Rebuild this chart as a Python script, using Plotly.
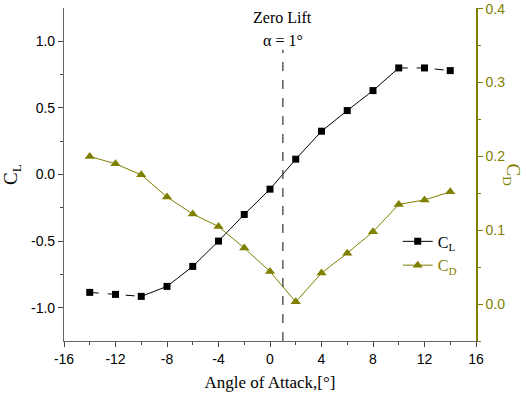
import plotly.graph_objects as go

alpha = [-14, -12, -10, -8, -6, -4, -2, 0, 2, 4, 6, 8, 10, 12, 14]
cl = [-0.885, -0.90, -0.915, -0.84, -0.69, -0.50, -0.30, -0.11, 0.115, 0.325, 0.48, 0.63, 0.80, 0.80, 0.78]
cd = [0.200, 0.190, 0.175, 0.145, 0.122, 0.105, 0.076, 0.044, 0.003, 0.042, 0.069, 0.098, 0.135, 0.141, 0.152]
zero_lift_alpha = 1

x_ticks = [-16, -12, -8, -4, 0, 4, 8, 12, 16]
cl_ticks = [-1.0, -0.5, 0.0, 0.5, 1.0]
cd_ticks = [0.0, 0.1, 0.2, 0.3, 0.4]

OLIVE = "#7f7f00"
SERIF = "Liberation Serif, Times New Roman, serif"
SANS = "Liberation Sans, Arial, sans-serif"

fig = go.Figure()

# CL: dashed ends, solid middle
fig.add_trace(go.Scatter(x=alpha[:3], y=cl[:3], mode="lines", line=dict(color="black", width=1, dash="dash"),
                         showlegend=False, hoverinfo="skip"))
fig.add_trace(go.Scatter(x=alpha[-3:], y=cl[-3:], mode="lines", line=dict(color="black", width=1, dash="dash"),
                         showlegend=False, hoverinfo="skip"))
fig.add_trace(go.Scatter(x=alpha[2:-2], y=cl[2:-2], mode="lines", line=dict(color="black", width=1),
                         showlegend=False, hoverinfo="skip"))
fig.add_trace(go.Scatter(x=alpha, y=cl, mode="markers", name="C<sub>L</sub>",
                         marker=dict(symbol="square", size=7, color="black"), showlegend=False))
# legend entry for CL
fig.add_trace(go.Scatter(x=[None], y=[None], mode="lines+markers", name="C<sub>L</sub>",
                         line=dict(color="black", width=1),
                         marker=dict(symbol="square", size=7, color="black")))

fig.add_trace(go.Scatter(x=alpha, y=cd, mode="lines+markers", yaxis="y2",
                         name="<span style='color:%s'>C<sub>D</sub></span>" % OLIVE,
                         line=dict(color=OLIVE, width=1),
                         marker=dict(symbol="triangle-up", size=9, color=OLIVE)))

fig.add_shape(type="line", xref="x", yref="paper", x0=zero_lift_alpha, x1=zero_lift_alpha, y0=0, y1=0.875,
              line=dict(color="#333333", width=1.2, dash="dash"))

fig.add_annotation(x=zero_lift_alpha, xref="x", y=1.0 - (18 - 8) / 333, yref="paper", yanchor="middle",
                   text="Zero Lift", showarrow=False, font=dict(family=SERIF, size=16, color="black"))
fig.add_annotation(x=zero_lift_alpha, xref="x", y=1.0 - (40 - 8) / 333, yref="paper", yanchor="middle",
                   text="α = 1°", showarrow=False, font=dict(family=SERIF, size=16, color="black"))
# right axis title rotated clockwise
fig.add_annotation(x=1.0, xref="paper", xanchor="center", xshift=36, y=0.5, yref="paper", yanchor="middle",
                   text="C<sub>D</sub>", textangle=90, showarrow=False,
                   font=dict(family=SERIF, size=19, color=OLIVE))

fig.update_layout(
    width=526, height=395,
    margin=dict(l=64, r=50, t=8, b=54),
    plot_bgcolor="white", paper_bgcolor="white",
    font=dict(family=SANS, size=14, color="black"),
    xaxis=dict(range=[-16, 16], tickmode="array", tickvals=x_ticks, ticktext=[str(v) for v in x_ticks],
               ticks="outside", ticklen=5, tickcolor="#444", showline=True, linecolor="#666", linewidth=1.2,
               showgrid=False, zeroline=False, automargin=False,
               minor=dict(tickvals=[-14, -10, -6, -2, 2, 6, 10, 14], ticks="outside", ticklen=3, tickcolor="#444"),
               title=dict(text="Angle of Attack,[°]", font=dict(family=SERIF, size=17), standoff=10)),
    yaxis=dict(range=[-1.25, 1.25], tickmode="array", tickvals=cl_ticks,
               ticktext=["%.1f" % v for v in cl_ticks],
               ticks="outside", ticklen=5, tickcolor="#444", showline=True, linecolor="#666", linewidth=1.2,
               showgrid=False, zeroline=False, automargin=False,
               minor=dict(tickvals=[-0.75, -0.25, 0.25, 0.75], ticks="outside", ticklen=3, tickcolor="#444"),
               title=dict(text="C<sub>L</sub>", font=dict(family=SERIF, size=19), standoff=10)),
    yaxis2=dict(range=[-0.05, 0.401], overlaying="y", side="right", tickmode="array", tickvals=cd_ticks,
                ticktext=["%.1f" % v for v in cd_ticks], ticks="outside", ticklen=5, tickcolor=OLIVE, showline=True,
                linecolor=OLIVE, linewidth=1.5, showgrid=False, zeroline=False, automargin=False,
                tickfont=dict(color=OLIVE),
                minor=dict(tickvals=[-0.05, 0.05, 0.15, 0.25, 0.35], ticks="outside", ticklen=3, tickcolor=OLIVE)),
    legend=dict(x=0.81, y=0.35, xanchor="left", yanchor="top", bgcolor="rgba(0,0,0,0)",
                font=dict(family=SERIF, size=16), itemwidth=30, tracegroupgap=0),
)

fig.write_html("out.html", config={"displayModeBar": False},
               post_script="document.body.style.margin='0';document.body.style.overflow='hidden';")
